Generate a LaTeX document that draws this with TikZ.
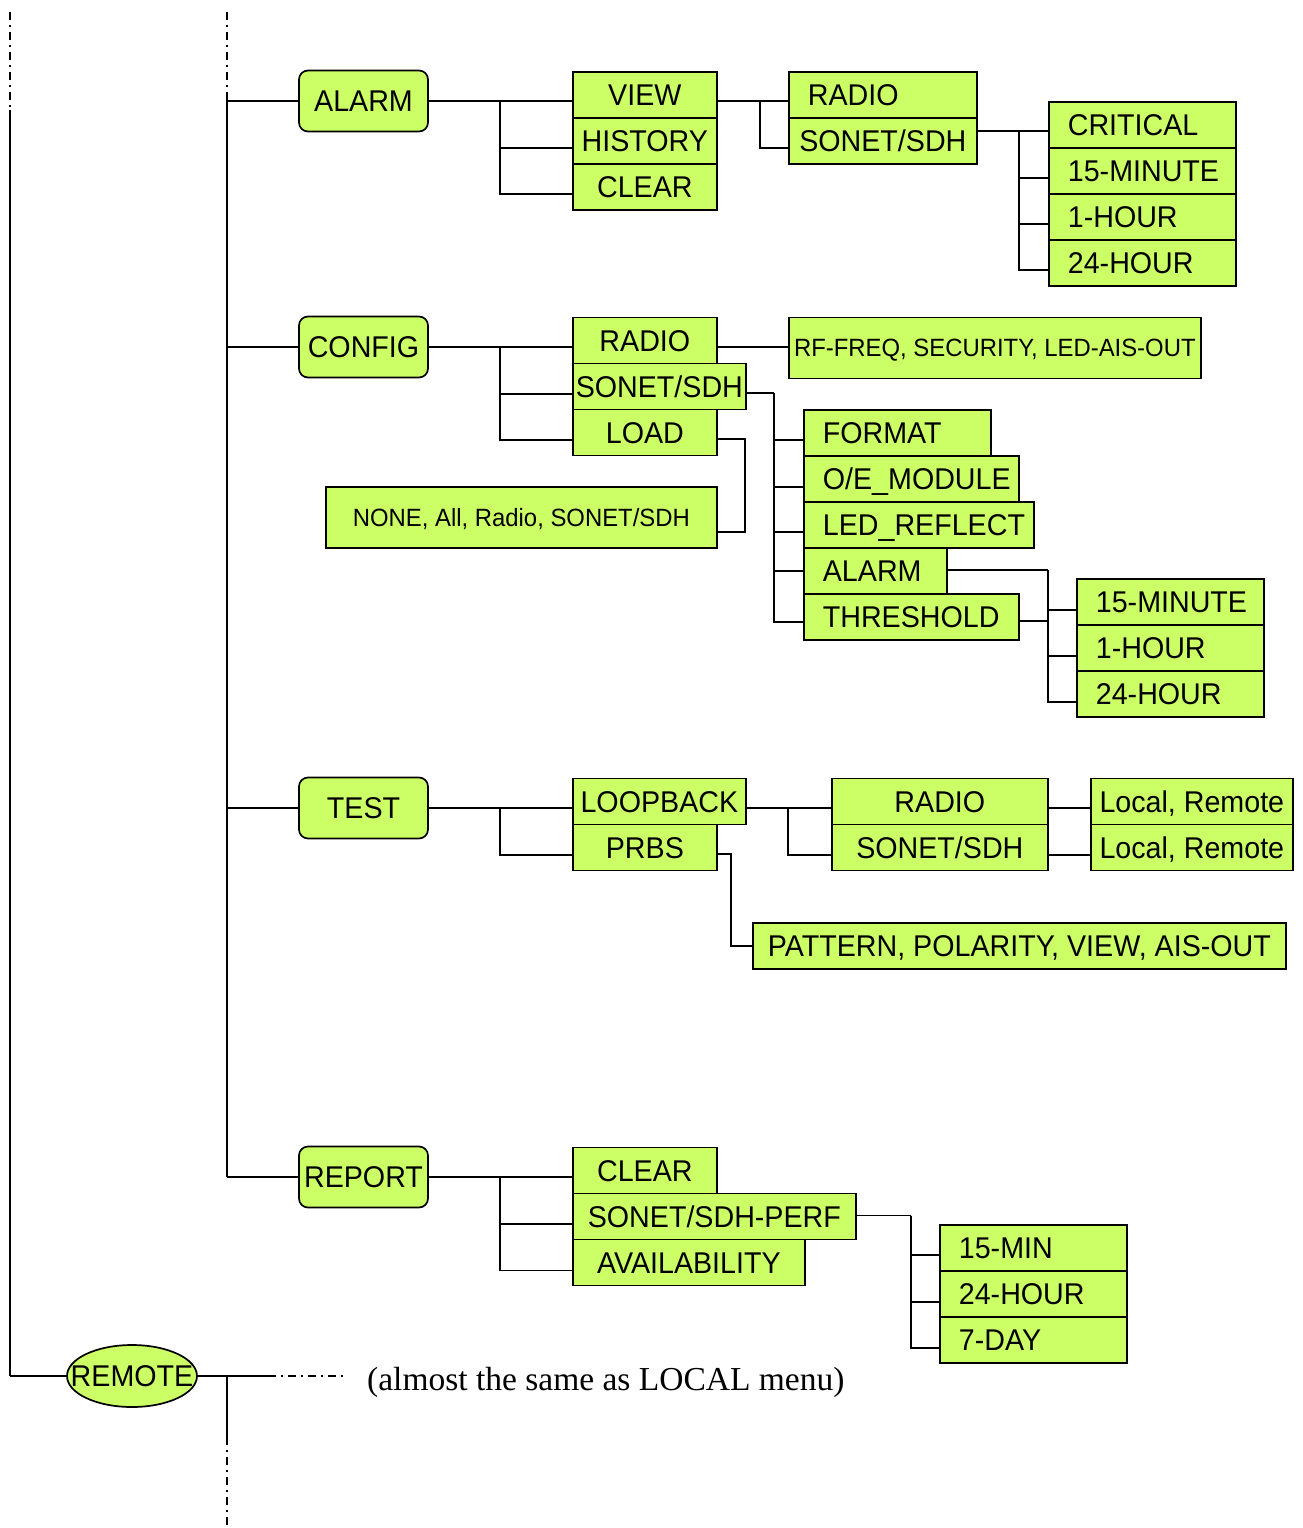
\documentclass[tikz,border=0pt]{standalone}
\usepackage{fontspec}
\setmainfont{Liberation Sans}
\newfontfamily\menufam[FakeStretch=0.955]{Liberation Sans}
\newfontfamily\notefam{Liberation Serif}
\usetikzlibrary{calc,shapes.geometric}
\definecolor{menugreen}{RGB}{204,255,102}
\newcommand\bigmenu{\menufam\fontsize{30}{34}\selectfont}
\newcommand\smallmenu{\menufam\fontsize{25}{28}\selectfont}

\begin{document}
\begin{tikzpicture}[x=1pt,y=-1pt,
  wire/.style={line width=1.6pt},
  dashdot/.style={line width=2.2pt, dash pattern=on 8pt off 5pt on 2pt off 5pt},
  leaf/.style={draw, fill=menugreen, line width=1.7pt, anchor=north west, inner sep=0pt,
    minimum height=46pt, font=\bigmenu, text height=21.5pt, text depth=0pt},
  cbox/.style={leaf, minimum width=#1},
  lbox/.style={leaf, text width=#1, inner xsep=19pt, align=left},
  widebox/.style={leaf, minimum width=#1, minimum height=61pt, font=\smallmenu, text height=18pt},
  topbox/.style={draw, fill=menugreen, line width=1.7pt, rounded corners=9pt,
    minimum width=129pt, minimum height=61pt, inner sep=0pt, font=\bigmenu,
    text height=21.5pt, text depth=0pt},
]
\useasboundingbox (0,0) rectangle (1303,1528);

% ---------- main menus ----------
\node[topbox] (alarm)  at (363.5,101)  {ALARM};
\node[topbox] (config) at (363.5,347)  {CONFIG};
\node[topbox] (test)   at (363.5,808)  {TEST};
\node[topbox] (report) at (363.5,1177) {REPORT};

% ---------- ALARM ----------
\node[cbox=144] (view)    at (572,71)  {VIEW};
\node[cbox=144] (history) at (572,117) {HISTORY};
\node[cbox=144] (aclear)  at (572,163) {CLEAR};
\node[lbox=150] (aradio)  at (788,71)  {RADIO};
\node[cbox=188] (asonet)  at (788,117) {SONET/SDH};
\node[lbox=149] (critical) at (1048,101) {\mbox{CRITICAL}};
\node[lbox=149] (m15)      at (1048,147) {\mbox{15-MINUTE}};
\node[lbox=149] (h1)       at (1048,193) {\mbox{1-HOUR}};
\node[lbox=149] (h24)      at (1048,239) {\mbox{24-HOUR}};

% ---------- CONFIG ----------
\node[cbox=144] (cradio) at (572,316.5) {RADIO};
\node[cbox=173] (csonet) at (572,362.5) {SONET/SDH};
\node[cbox=144] (load)   at (572,408.5) {LOAD};
\node[widebox=412] (rffreq) at (788,316.5) {RF-FREQ, SECURITY, LED-AIS-OUT};
\node[widebox=391] (none)   at (325,486)   {NONE, All, Radio, SONET/SDH};
\node[lbox=149] (format) at (803,409) {\mbox{FORMAT}};
\node[lbox=177] (oe)     at (803,455) {\mbox{O/E\_MODULE}};
\node[lbox=192] (led)    at (803,501) {\mbox{LED\_REFLECT}};
\node[lbox=105] (calarm) at (803,547) {\mbox{ALARM}};
\node[lbox=177] (thresh) at (803,593) {\mbox{THRESHOLD}};
\node[lbox=149] (t15) at (1076,578) {\mbox{15-MINUTE}};
\node[lbox=149] (t1h) at (1076,624) {\mbox{1-HOUR}};
\node[lbox=149] (t24) at (1076,670) {\mbox{24-HOUR}};

% ---------- TEST ----------
\node[cbox=173] (loop)   at (572,777.5) {LOOPBACK};
\node[cbox=144] (prbs)   at (572,823.5) {PRBS};
\node[cbox=216] (tradio) at (831,777.5) {RADIO};
\node[cbox=216] (tsonet) at (831,823.5) {SONET/SDH};
\node[cbox=202] (local1) at (1090,777.5) {Local, Remote};
\node[cbox=202] (local2) at (1090,823.5) {Local, Remote};
\node[cbox=533] (pattern) at (752,922) {PATTERN, POLARITY, VIEW, AIS-OUT};

% ---------- REPORT ----------
\node[cbox=144] (rclear) at (572,1146.5) {CLEAR};
\node[cbox=283] (perf)   at (572,1192.5) {SONET/SDH-PERF};
\node[cbox=232] (avail)  at (572,1238.5) {AVAILABILITY};
\node[lbox=149] (min15) at (939,1224) {\mbox{15-MIN}};
\node[lbox=149] (d24)   at (939,1270) {\mbox{24-HOUR}};
\node[lbox=149] (d7)    at (939,1316) {\mbox{7-DAY}};

% ---------- REMOTE ----------
\node[ellipse, draw, fill=menugreen, line width=1.7pt, minimum width=130pt,
  minimum height=62pt, inner sep=0pt, font=\bigmenu] (remote) at (132,1376)
  {\smash{\makebox[0pt]{\raisebox{-0.5\height}{REMOTE}}}};
\node[anchor=base west, inner sep=0pt, font=\notefam\fontsize{33.5}{38}\selectfont]
  (note) at (367,1390) {(almost the same as LOCAL menu)};

% ---------- trunks ----------
\coordinate (ltop) at (10,12);
\coordinate (lsplit) at (10,110);
\coordinate (lfoot) at (10,1376);
\coordinate (ttop) at (227,12);
\coordinate (tsplit) at (227,100);
\coordinate (tfoot) at (227,1177);
\draw[dashdot] (ltop) -- (lsplit);
\draw[wire] (lsplit) -- (lfoot);
\draw[dashdot] (ttop) -- (tsplit);
\draw[wire] (tsplit) -- (tfoot);
\foreach \n in {alarm,config,test,report} \draw[wire] (\n.west -| ttop) -- (\n.west);

% ---------- ALARM connectors ----------
\coordinate (abus) at (500,101);
\draw[wire] (alarm.east) -- (view.west |- alarm.east);
\draw[wire] (abus) |- ($(history.west)+(0,7)$);
\draw[wire] (abus) |- ($(aclear.west)+(0,7)$);
\coordinate (vbus) at (760,101);
\draw[wire] (vbus -| view.east) -- (vbus -| aradio.west);
\draw[wire] (vbus) |- ($(asonet.west)+(0,7)$);
\coordinate (sbus) at (1019,131);
\draw[wire] (sbus -| asonet.east) -- (sbus -| critical.west);
\foreach \n in {m15,h1,h24} \draw[wire] (sbus) |- ($(\n.west)+(0,7)$);

% ---------- CONFIG connectors ----------
\coordinate (cbus) at (500,347);
\draw[wire] (config.east) -- (cradio.west |- config.east);
\draw[wire] (cbus) |- ($(csonet.west)+(0,7.5)$);
\draw[wire] (cbus) |- ($(load.west)+(0,7.5)$);
\draw[wire] (cradio.east |- config.east) -- (rffreq.west |- config.east);
\coordinate (lbend) at (745,439);
\draw[wire] (lbend -| load.east) -- (lbend) |- ($(none.east)+(0,14.5)$);
\coordinate (sdbus) at (774,393);
\draw[wire] (sdbus -| csonet.east) -- (sdbus);
\draw[wire] (sdbus) |- ($(format.west)+(0,7)$);
\draw[wire] (sdbus) |- ($(oe.west)+(0,8)$);
\draw[wire] (sdbus) |- ($(led.west)+(0,7)$);
\draw[wire] (sdbus) |- (calarm.west);
\draw[wire] (sdbus) |- ($(thresh.west)+(0,5)$);
\coordinate (thbus) at (1048,570);
\coordinate (thj) at (1048,621);
\draw[wire] (thbus -| calarm.east) -- (thbus);
\draw[wire] (thj -| thresh.east) -- (thj);
\foreach \n in {t15,t1h,t24} \draw[wire] (thbus) |- ($(\n.west)+(0,8)$);

% ---------- TEST connectors ----------
\coordinate (tbus) at (500,808);
\draw[wire] (test.east) -- (loop.west |- test.east);
\draw[wire] (tbus) |- ($(prbs.west)+(0,7.5)$);
\coordinate (lpbus) at (788,808);
\draw[wire] (lpbus -| loop.east) -- (lpbus -| tradio.west);
\draw[wire] (lpbus) |- ($(tsonet.west)+(0,7.5)$);
\draw[wire] (lpbus -| tradio.east) -- (lpbus -| local1.west);
\draw[wire] ($(tsonet.east)+(0,7.5)$) -- ($(local2.west)+(0,7.5)$);
\coordinate (pbend) at (731,854);
\draw[wire] (pbend -| prbs.east) -- (pbend) |- (pattern.west);

% ---------- REPORT connectors ----------
\coordinate (rbus) at (500,1177);
\draw[wire] (report.east) -- (rclear.west |- report.east);
\draw[wire] (rbus) |- ($(perf.west)+(0,7.5)$);
\draw[wire] (rbus) |- ($(avail.west)+(0,8)$);
\coordinate (pfbus) at (911,1215.5);
\draw[wire] (pfbus -| perf.east) -- (pfbus);
\draw[wire] (pfbus) |- ($(min15.west)+(0,7)$);
\draw[wire] (pfbus) |- ($(d24.west)+(0,8)$);
\draw[wire] (pfbus) |- ($(d7.west)+(0,8)$);

% ---------- REMOTE connectors ----------
\coordinate (rsolid) at (268,1376);
\coordinate (rdash) at (343,1376);
\coordinate (rjoin) at (227,1376);
\coordinate (rdown) at (227,1437);
\coordinate (rbottom) at (227,1528);
\draw[wire] (lfoot) -- (remote.west);
\draw[wire] (remote.east) -- (rsolid);
\draw[dashdot] (rsolid) -- (rdash);
\draw[wire] (rjoin) -- (rdown);
\draw[dashdot] (rdown) -- (rbottom);
\end{tikzpicture}
\end{document}
